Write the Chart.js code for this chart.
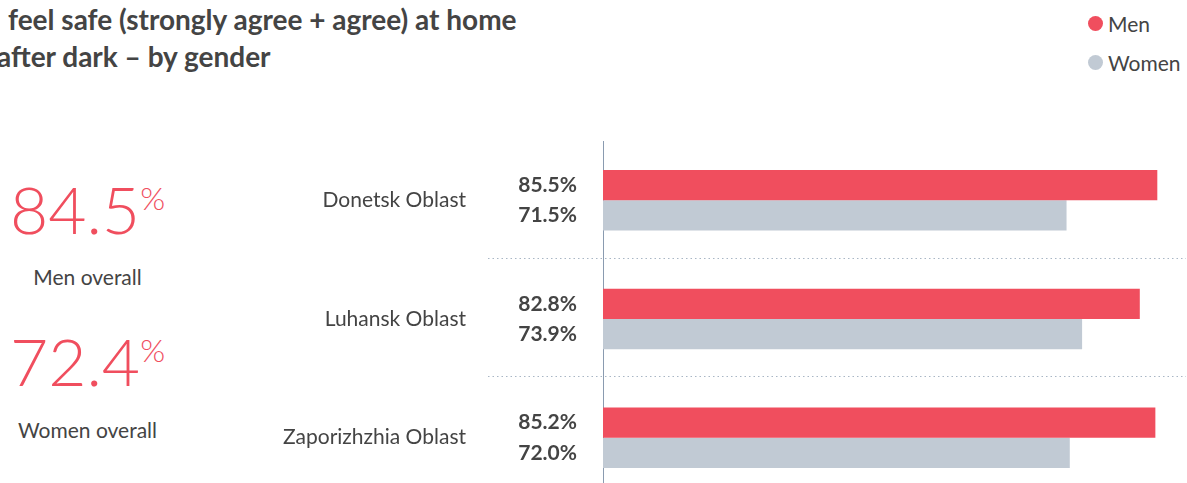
<!DOCTYPE html>
<html>
<head>
<meta charset="utf-8">
<script src="https://cdn.jsdelivr.net/npm/chart.js@4.4.1/dist/chart.umd.min.js"></script>
<style>
  html, body { margin: 0; padding: 0; background: #fff; overflow: hidden; }
  body { width: 1187px; height: 483px; position: relative; font-family: Lato, "Noto Sans", sans-serif; color: #444; }
  .title { position: absolute; font-weight: bold; font-size: 28px; white-space: nowrap; color: #444; line-height: 1; }
  .legend { position: absolute; left: 1088px; font-size: 21px; color: #444; display: flex; align-items: center; line-height: 1; }
  .legend i { display: inline-block; width: 15px; height: 15px; border-radius: 50%; margin-right: 5px; }
  .big { position: absolute; width: 175px; text-align: center; color: #f04e5e; font-weight: 300; font-size: 66px; line-height: 1; }
  .big sup { font-size: 32px; vertical-align: 0; position: relative; top: -24px; margin-left: 0; }
  .cap { position: absolute; width: 175px; text-align: center; font-size: 21px; color: #444; line-height: 1; }
  #chart { position: absolute; left: 0; top: 0; }
</style>
</head>
<body>
<div class="title" style="left:8px; top:5px;">feel safe (strongly agree + agree) at home</div>
<div class="title" style="left:-3px; top:42px;">after dark – by gender</div>

<div class="legend" style="top:13px;"><i style="background:#f04e5e"></i>Men</div>
<div class="legend" style="top:52px;"><i style="background:#c1cad4"></i>Women</div>

<div class="big" style="left:0; top:176px;">84.5<sup>%</sup></div>
<div class="cap" style="left:0; top:266px;">Men overall</div>
<div class="big" style="left:0; top:328px;">72.4<sup>%</sup></div>
<div class="cap" style="left:0; top:419px;">Women overall</div>

<canvas id="chart" width="1187" height="500"></canvas>

<script>
const categories = ['Donetsk Oblast', 'Luhansk Oblast', 'Zaporizhzhia Oblast'];
const menValues = [85.5, 82.8, 85.2];
const womenValues = [71.5, 73.9, 72.0];
const seriesNames = ['Men', 'Women'];

const MEN_COLOR = '#f04e5e';
const WOMEN_COLOR = '#c1cad4';
const TEXT_COLOR = '#444';
const FONT = 'Lato, "Noto Sans", sans-serif';

// value labels left of the axis + dotted separators between regions
const extrasPlugin = {
  id: 'extras',
  afterDatasetsDraw(chart) {
    const ctx = chart.ctx;
    const y = chart.scales.y;
    const area = chart.chartArea;
    ctx.save();
    // separators
    ctx.strokeStyle = '#a9b6c5';
    ctx.lineWidth = 1;
    ctx.setLineDash([1.5, 3]);
    for (let i = 0; i < categories.length - 1; i++) {
      const yy = Math.round((y.getPixelForValue(i) + y.getPixelForValue(i + 1)) / 2) - 1.5;
      ctx.beginPath();
      ctx.moveTo(488, yy);
      ctx.lineTo(1186, yy);
      ctx.stroke();
    }
    ctx.setLineDash([]);
    // value labels
    ctx.font = 'bold 21px ' + FONT;
    ctx.fillStyle = TEXT_COLOR;
    ctx.textAlign = 'right';
    ctx.textBaseline = 'middle';
    chart.data.datasets.forEach((ds, di) => {
      const meta = chart.getDatasetMeta(di);
      meta.data.forEach((bar, i) => {
        ctx.fillText(ds.data[i].toFixed(1) + '%', area.left - 26, bar.y);
      });
    });
    ctx.restore();
  }
};

new Chart(document.getElementById('chart'), {
  type: 'bar',
  data: {
    labels: categories,
    datasets: [
      { label: seriesNames[0], data: menValues, backgroundColor: MEN_COLOR },
      { label: seriesNames[1], data: womenValues, backgroundColor: WOMEN_COLOR }
    ]
  },
  options: {
    indexAxis: 'y',
    responsive: false,
    animation: false,
    layout: { padding: { top: 141, bottom: 3, left: 0, right: 7 } },
    scales: {
      x: {
        display: false,
        min: 0,
        max: 89
      },
      y: {
        afterFit: (scale) => {
          scale.width = 603;
          // tick padding would otherwise also pad the top/bottom of the chart area
          scale.paddingTop = 0;
          scale.paddingBottom = 0;
        },
        grid: { display: false, drawTicks: false },
        border: { display: true, color: '#8a9bb0', width: 1 },
        ticks: {
          padding: 137,
          color: TEXT_COLOR,
          font: { family: FONT, size: 21 }
        }
      }
    },
    datasets: { bar: { categoryPercentage: 0.51, barPercentage: 1 } },
    plugins: {
      legend: { display: false },
      tooltip: { enabled: false }
    }
  },
  plugins: [extrasPlugin]
});
</script>
</body>
</html>
